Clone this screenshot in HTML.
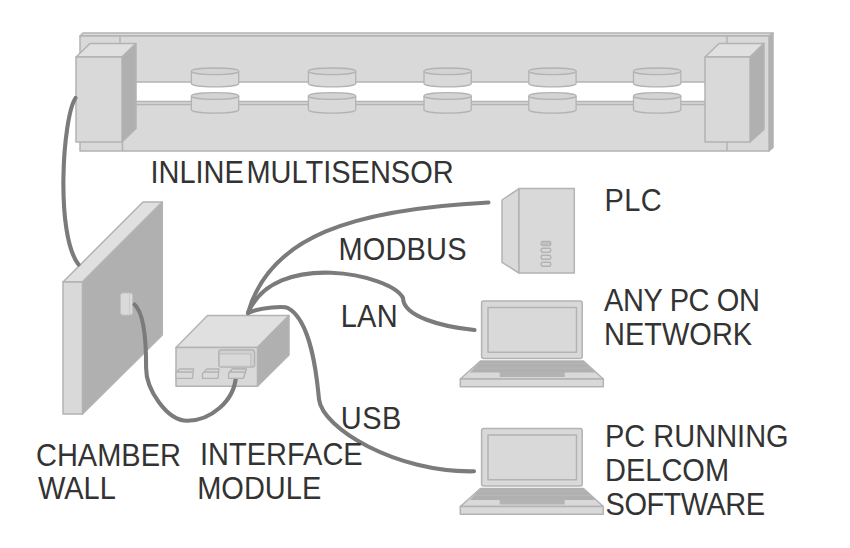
<!DOCTYPE html>
<html><head><meta charset="utf-8">
<style>
html,body{margin:0;padding:0;background:#fff;width:850px;height:548px;overflow:hidden}
svg{display:block}
text{font-family:"Liberation Sans",sans-serif;font-size:29px;fill:#333}
</style></head>
<body>
<svg width="850" height="548" viewBox="0 0 850 548">
<g stroke="#b3b3b3" stroke-width="1.5" stroke-linejoin="round">
  <!-- multisensor bar -->
  <polygon points="80,36 83,33 773,33 769,36" fill="#dcdcdc"/>
  <polygon points="769,36 773,33 773,147.5 769,151" fill="#b0b0b0"/>
  <rect x="80" y="36" width="689" height="115" fill="#d9d9d9"/>
  <line x1="120" y1="36" x2="120" y2="50"/><line x1="122.5" y1="130" x2="122.5" y2="151"/>
  <line x1="727" y1="36" x2="727" y2="151"/>
  <!-- slot -->
  <rect x="130" y="82" width="580" height="19.5" fill="#fff" stroke="none"/>
  <line x1="130" y1="82" x2="710" y2="82"/>
  <line x1="130" y1="101.5" x2="710" y2="101.5"/>
  <line x1="130" y1="104.5" x2="710" y2="104.5"/>
</g>
<!-- pucks -->
<g id="pk" stroke="#b3b3b3" stroke-width="1.3" fill="#d9d9d9">
  <path d="M191.4,71.3 V83.5 A23.65,3.3 0 0 0 238.7,83.5 V71.3"/>
  <ellipse cx="215.05" cy="71.3" rx="23.65" ry="3.3" fill="#d3d3d3"/>
  <path d="M191.4,96 V109.8 A23.65,3.3 0 0 0 238.7,109.8 V96"/>
  <ellipse cx="215.05" cy="96" rx="23.65" ry="3.3" fill="#d3d3d3"/>
</g>
<use href="#pk" x="117"/>
<use href="#pk" x="232.6"/>
<use href="#pk" x="337.4"/>
<use href="#pk" x="442.1"/>
<g stroke="#b3b3b3" stroke-width="1.5" stroke-linejoin="round">
  <!-- left box -->
  <polygon points="76,57 90,43.5 136,43.5 122,57" fill="#e0e0e0"/>
  <polygon points="122,57 136,43.5 136,128.5 122,142" fill="#b0b0b0"/>
  <rect x="76" y="57" width="46" height="85" fill="#d9d9d9"/>
  <!-- right box -->
  <polygon points="705,57 719,43.5 764,43.5 750,57" fill="#e0e0e0"/>
  <polygon points="750,57 764,43.5 764,129.5 750,142" fill="#b0b0b0"/>
  <rect x="705" y="57" width="45" height="85" fill="#d9d9d9"/>

  <!-- chamber wall -->
  <polygon points="63,282 143,202 162.3,202 82.5,282" fill="#e0e0e0"/>
  <polygon points="82.5,282 162.3,202 162.3,335 82.5,414" fill="#b0b0b0"/>
  <rect x="63" y="282" width="19.5" height="132" fill="#d9d9d9"/>
  <rect x="120.5" y="293" width="12" height="22" rx="2.5" fill="#dadada" stroke="#c2c2c2" stroke-width="1"/><line x1="129.5" y1="294" x2="129.5" y2="314" stroke="#c8c8c8" stroke-width="1"/>

  <!-- interface module -->
  <polygon points="176,347.5 207.5,315.5 289,315.5 257.5,347.5" fill="#e0e0e0"/>
  <polygon points="257.5,347.5 289,315.5 289,355 257.5,386.3" fill="#b0b0b0"/>
  <rect x="176" y="347.5" width="81.5" height="38.8" fill="#d9d9d9"/>
  <rect x="218.8" y="350" width="35.8" height="17" rx="2" fill="#d0d0d0"/>
  <path d="M219.5,366.3 V353.8 H250.7 V366.3 Z" fill="#d9d9d9" stroke="#c0c0c0" stroke-width="1.2"/>
  <path d="M176,378.3 V372.5 L179.5,369 H193.5 L192.5,378.3 Z M176.5,372 H193" fill="#d9d9d9" stroke-width="1.3"/>
  <path d="M202.5,378.3 V373.5 L207,369 H219 L218,378.3 Z M203.5,372 H218.7" fill="#d9d9d9" stroke-width="1.3"/>
  <path d="M228.6,378.3 V373.4 L232.3,369 H246.3 L243.3,378.3 Z M229.5,372 H245.3" fill="#d9d9d9" stroke-width="1.3"/>

  </g>
<path d="M134.5,304.5 C145.4,314.2 146.2,347.4 146.1,368 C146,389 166.6,420.8 187.4,420.8 C209.8,420.8 234.4,401.8 236,376" fill="none" stroke="#7b7b7b" stroke-width="4.1" stroke-linecap="round"/>
<g stroke="#b3b3b3" stroke-width="1.5" stroke-linejoin="round">
  <path d="M228.6,378.3 V373.4 L232.3,369 H246.3 L243.3,378.3 Z M229.5,372 H245.3" fill="#d9d9d9" stroke-width="1.3"/>
  <!-- PLC -->
  <polygon points="502,200 519,188.6 519,273 502,262.3" fill="#d9d9d9"/>
  <rect x="519" y="188.6" width="55.3" height="84.4" fill="#d9d9d9"/>
  <rect x="541.2" y="241.5" width="9.5" height="4" rx="1.5" fill="#c2c2c2"/>
  <rect x="541.2" y="248.2" width="9.5" height="4" rx="1.5" fill="#d9d9d9"/>
  <rect x="541.2" y="255.2" width="9.5" height="4" rx="1.5" fill="#d9d9d9"/>
  <rect x="541.2" y="262.2" width="9.5" height="4" rx="1.5" fill="#d9d9d9"/>

  <!-- laptops -->
  <g id="lap" stroke="#b3b3b3" stroke-width="1.5" stroke-linejoin="round">
    <rect x="481.6" y="301" width="100.6" height="57.6" rx="2" fill="#d9d9d9"/>
    <rect x="488" y="307.6" width="88.5" height="44.7" fill="#d9d9d9"/>
    <polygon points="480.4,361 583.5,361 603.3,379 460.3,379" fill="#d9d9d9"/>
    <polygon points="480.4,361 583.5,361 595.5,372.5 470,372.5" fill="#b0b0b0" stroke="none"/>
    <path d="M478,363.5 H586 M474,368 H591" stroke="#b7b7b7" stroke-width="1"/>
    <rect x="499.7" y="372" width="65" height="5" fill="#b3b3b3" stroke="none"/>
    <rect x="460.3" y="379" width="143" height="7.7" fill="#d9d9d9"/>
  </g>
</g>
<use href="#lap" y="127.5"/>

<!-- cables -->
<g fill="none" stroke="#7b7b7b" stroke-width="4.1" stroke-linecap="round">
  <path d="M75.5,98 C62.6,117.7 55.2,234.7 78.5,264.5"/>
  <path d="M248,313 C269.5,236.7 352.2,209.4 488.5,202.5"/>
  <path d="M248,313 C274.5,249.4 391.2,274.2 403,298 C403.2,316.5 442,326.9 474.5,330"/>
  <path d="M248,313 C261.9,306.6 284.7,306.3 287.8,308 C312.6,321.1 317.3,382.6 319,399.3 C322.1,428.3 396.6,472.9 474,471.3"/>
</g>

<!-- labels -->
<text x="150.4" y="183.4" transform="matrix(1,0,0,1.09,0,-16.51)" word-spacing="-5.5">INLINE MULTISENSOR</text>
<text x="604.5" y="210.7" transform="matrix(1,0,0,1.09,0,-18.96)" letter-spacing="0.4">PLC</text>
<text x="604.1" y="311.4" transform="matrix(1,0,0,1.09,0,-28.03)" letter-spacing="-0.4">ANY PC ON</text>
<text x="604.0" y="344.7" transform="matrix(1,0,0,1.09,0,-31.02)">NETWORK</text>
<text x="605.0" y="447.2" transform="matrix(1,0,0,1.09,0,-40.25)">PC RUNNING</text>
<text x="605.0" y="481.3" transform="matrix(1,0,0,1.09,0,-43.32)">DELCOM</text>
<text x="605.6" y="514.9" transform="matrix(1,0,0,1.09,0,-46.34)" letter-spacing="-0.55">SOFTWARE</text>
<text x="36.0" y="465.7" transform="matrix(1,0,0,1.09,0,-41.91)">CHAMBER</text>
<text x="38.0" y="499.1" transform="matrix(1,0,0,1.09,0,-44.92)">WALL</text>
<text x="200.0" y="465.1" transform="matrix(1,0,0,1.09,0,-41.86)">INTERFACE</text>
<text x="197.2" y="498.9" transform="matrix(1,0,0,1.09,0,-44.90)">MODULE</text>
<text x="338.5" y="260.1" transform="matrix(1,0,0,1.09,0,-23.41)" letter-spacing="0.15">MODBUS</text>
<text x="340.7" y="326.9" transform="matrix(1,0,0,1.09,0,-29.42)" letter-spacing="0.3">LAN</text>
<text x="340.7" y="429.3" transform="matrix(1,0,0,1.09,0,-38.64)" letter-spacing="0.5">USB</text>
</svg>
</body></html>
